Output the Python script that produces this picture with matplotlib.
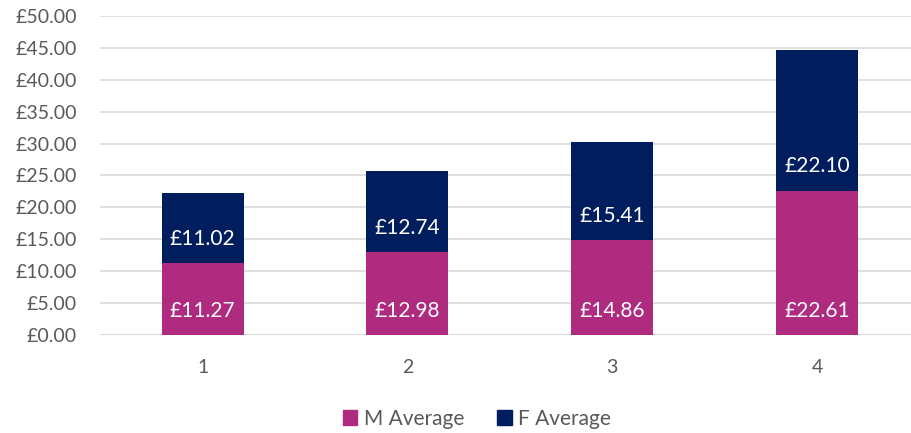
import matplotlib
matplotlib.use("Agg")
import matplotlib.pyplot as plt
from matplotlib.patches import Patch

categories = ["1", "2", "3", "4"]
m_average = [11.27, 12.98, 14.86, 22.61]
f_average = [11.02, 12.74, 15.41, 22.10]

m_color = "#AE2B80"
f_color = "#001E5E"
text_color = "#595959"

plt.rcParams["font.family"] = ["Lato", "DejaVu Sans"]

fig = plt.figure(figsize=(9.12, 4.33), dpi=100)
ax = fig.add_axes([0.11, 0.2263, 0.898, 0.737])

x = range(len(categories))
bars_m = ax.bar(x, m_average, width=0.4, color=m_color, zorder=2)
bars_f = ax.bar(x, f_average, width=0.4, bottom=m_average, color=f_color, zorder=2)

# labels sit near the base of each segment (Excel "inside base")
for bars, vals in ((bars_m, m_average), (bars_f, f_average)):
    for bar, val in zip(bars, vals):
        ax.annotate(f"£{val:.2f}", (bar.get_x() + bar.get_width() / 2, bar.get_y()),
                    xytext=(0, 17.5), textcoords="offset points",
                    ha="center", va="center", color="white", fontsize=15, zorder=3)

ax.set_xlim(-0.5, 3.5)
ax.set_ylim(0, 50)
ax.set_yticks(range(0, 51, 5))
ax.set_yticklabels([f"£{v:.2f}" for v in range(0, 51, 5)])
ax.set_xticks(list(x))
ax.set_xticklabels(categories)
ax.tick_params(axis="both", length=0, labelsize=14, colors=text_color)
ax.tick_params(axis="x", pad=17)
ax.tick_params(axis="y", pad=17)
ax.grid(axis="y", color="#D9D9D9", linewidth=1.2, zorder=0)
for spine in ax.spines.values():
    spine.set_visible(False)
ax.axhline(0, color="#D9D9D9", linewidth=1.2, zorder=1)

handles = [Patch(color=m_color, label="M Average"), Patch(color=f_color, label="F Average")]
fig.legend(handles=handles, loc="center", bbox_to_anchor=(0.523, 0.033), ncol=2,
           frameon=False, fontsize=15, labelcolor=text_color, handlelength=0.7,
           handleheight=0.7, handletextpad=0.3, columnspacing=1.6)

fig.savefig("out.png", dpi=100)
